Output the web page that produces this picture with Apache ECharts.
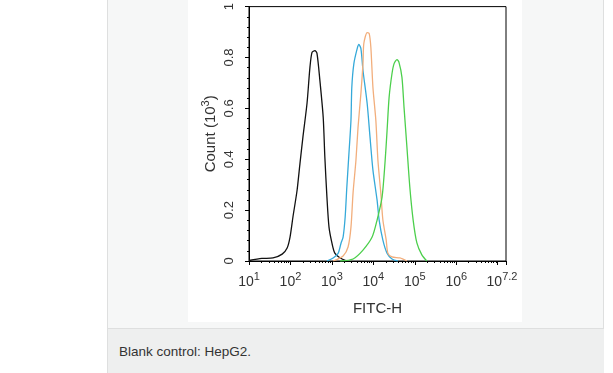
<!DOCTYPE html>
<html>
<head>
<meta charset="utf-8">
<script src="https://cdn.jsdelivr.net/npm/echarts@6/dist/echarts.min.js"></script>
<style>
  html, body { margin: 0; padding: 0; width: 613px; height: 373px; background: #ffffff; overflow: hidden; font-family: "Liberation Sans", Arial, sans-serif; }
  #panel { position: absolute; left: 107px; top: -10px; width: 495px; height: 337px; background: #f6f7f7; border: 1px solid #dedfdf; }
  #imgbox { position: absolute; left: 188px; top: 0px; width: 334px; height: 322px; background: #ffffff; }
  #caption { position: absolute; left: 107px; top: 329px; width: 496px; height: 44px; background: #eeefef; border-left: 1px solid #dedfdf; }
  #caption span { position: absolute; left: 11px; top: 15px; font-size: 13.5px; color: #333333; line-height: 16px; }
  #chart { position: absolute; left: 0; top: 0; width: 613px; height: 373px; }
</style>
</head>
<body>
<div id="panel"></div>
<div id="imgbox"></div>
<div id="caption"><span>Blank control: HepG2.</span></div>
<div id="chart"></div>
<script>
// x values are log10(FITC-H); y values are Count in units of 10^3
const blankX  = [1.00,1.31,1.58,1.80,1.92,1.99,2.06,2.16,2.23,2.30,2.40,2.47,2.52,2.59,2.64,2.71,2.79,2.83,2.88,2.93,3.00,3.07,3.20,3.36];
const blankY  = [0.002,0.010,0.012,0.027,0.051,0.094,0.173,0.278,0.384,0.486,0.620,0.761,0.820,0.827,0.816,0.710,0.565,0.408,0.251,0.133,0.071,0.031,0.012,0.000];

const blueX   = [2.88,3.03,3.15,3.22,3.27,3.32,3.36,3.41,3.46,3.48,3.53,3.61,3.65,3.70,3.75,3.85,3.92,3.99,4.09,4.14,4.23,4.33,4.45,4.59];
const blueY   = [0.000,0.012,0.030,0.070,0.094,0.173,0.290,0.420,0.553,0.682,0.776,0.835,0.851,0.835,0.749,0.620,0.486,0.357,0.239,0.161,0.082,0.031,0.008,0.000];

const orangeX = [3.03,3.27,3.39,3.46,3.51,3.58,3.63,3.70,3.75,3.77,3.85,3.90,3.94,3.99,4.06,4.11,4.18,4.23,4.31,4.35,4.45,4.64,4.81];
const orangeY = [0.000,0.020,0.055,0.133,0.267,0.396,0.525,0.659,0.776,0.855,0.898,0.894,0.839,0.682,0.553,0.396,0.267,0.161,0.082,0.031,0.016,0.012,0.000];

const greenX  = [3.20,3.51,3.75,3.97,4.09,4.21,4.28,4.33,4.38,4.45,4.50,4.57,4.62,4.69,4.74,4.81,4.88,4.96,5.05,5.17,5.29];
const greenY  = [0.000,0.008,0.043,0.094,0.161,0.251,0.384,0.510,0.643,0.737,0.776,0.792,0.780,0.722,0.604,0.447,0.290,0.161,0.071,0.024,0.000];

// axis ticks
const xMajorTicks = [1, 2, 3, 4, 5, 6, 7, 7.2];
const xLabelExponents = [1, 2, 3, 4, 5, 6, 7.2];
const xLabelTexts = ['1', '2', '3', '4', '5', '6', '7.2'];
const xDecades = [1, 2, 3, 4, 5, 6, 7];
const xMinorMultipliers = [2, 3, 4, 5, 6, 7, 8, 9];
const yTicks = [0, 0.2, 0.4, 0.6, 0.8, 1];

const xMin = 1, xMax = 7.2;
const xMinorTicks = [];
xDecades.forEach(d => xMinorMultipliers.forEach(m => {
  const v = d + Math.log10(m);
  if (v < xMax) xMinorTicks.push(v);
}));

function pairs(xs, ys) { return xs.map((x, i) => [x, ys[i]]); }

const chart = echarts.init(document.getElementById('chart'), null, { renderer: 'canvas' });
const textColor = '#333333';
const font = 'Liberation Sans';

chart.setOption({
  backgroundColor: 'transparent',
  animation: false,
  grid: { left: 249, top: 6, width: 257, height: 255, show: true, borderColor: '#000000', borderWidth: 1, backgroundColor: 'transparent' },
  xAxis: [
    {
      type: 'value', min: xMin, max: xMax, position: 'bottom',
      name: 'FITC-H', nameLocation: 'middle', nameGap: 39,
      nameTextStyle: { fontSize: 15, color: textColor, fontFamily: font, lineHeight: 18 },
      axisLine: { onZero: false, lineStyle: { color: '#000000', width: 1 } },
      axisTick: { show: true, inside: false, length: 4, customValues: xMajorTicks, lineStyle: { color: '#000000' } },
      splitLine: { show: false },
      axisLabel: {
        margin: 10, customValues: xLabelExponents,
        formatter: function (v) {
          const i = xLabelExponents.findIndex(e => Math.abs(e - v) < 1e-6);
          const t = i >= 0 ? xLabelTexts[i] : String(v);
          return t === '7.2' ? '{b|10}{supEnd|' + t + '}' : '{b|10}{sup|' + t + '}';
        },
        rich: {
          b: { fontSize: 14, lineHeight: 18, verticalAlign: 'bottom', color: textColor, fontFamily: font },
          sup: { fontSize: 11, lineHeight: 12, verticalAlign: 'top', color: textColor, fontFamily: font },
          supEnd: { fontSize: 11, lineHeight: 12, verticalAlign: 'top', color: textColor, fontFamily: font, padding: [0, 8, 0, 0] }
        }
      }
    },
    {
      type: 'value', min: xMin, max: xMax, position: 'bottom',
      axisLine: { show: false, onZero: false },
      axisTick: { show: true, inside: false, length: 2, customValues: xMinorTicks, lineStyle: { color: '#000000' } },
      axisLabel: { show: false },
      splitLine: { show: false }
    }
  ],
  yAxis: {
    type: 'value', min: 0, max: 1, interval: 0.2,
    name: '{a|Count (10}{s|3}{a|)}', nameLocation: 'middle', nameGap: 31,
    nameTextStyle: {
      rich: {
        a: { fontSize: 15, lineHeight: 18, verticalAlign: 'bottom', color: textColor, fontFamily: font },
        s: { fontSize: 11, lineHeight: 12, verticalAlign: 'top', color: textColor, fontFamily: font }
      }
    },
    axisLine: { show: true, lineStyle: { color: '#000000', width: 1 } },
    axisTick: { show: true, inside: false, length: 4, customValues: yTicks, lineStyle: { color: '#000000' } },
    minorTick: { show: true, splitNumber: 5, length: 2, lineStyle: { color: '#000000' } },
    splitLine: { show: false },
    minorSplitLine: { show: false },
    axisLabel: { rotate: 90, margin: 13, fontSize: 13, color: textColor, fontFamily: font, customValues: yTicks }
  },
  series: [
    { type: 'line', name: 'Blank', data: pairs(blankX, blankY), showSymbol: false, smooth: 0.25, lineStyle: { color: '#111111', width: 1.3 }, itemStyle: { color: '#111111' } },
    { type: 'line', name: 'Blue', data: pairs(blueX, blueY), showSymbol: false, smooth: 0.25, lineStyle: { color: '#35a9d9', width: 1.3 }, itemStyle: { color: '#35a9d9' } },
    { type: 'line', name: 'Orange', data: pairs(orangeX, orangeY), showSymbol: false, smooth: 0.25, lineStyle: { color: '#f2ae7c', width: 1.3 }, itemStyle: { color: '#f2ae7c' } },
    { type: 'line', name: 'Green', data: pairs(greenX, greenY), showSymbol: false, smooth: 0.25, lineStyle: { color: '#4ccf4c', width: 1.3 }, itemStyle: { color: '#4ccf4c' } }
  ]
});
</script>
</body>
</html>
